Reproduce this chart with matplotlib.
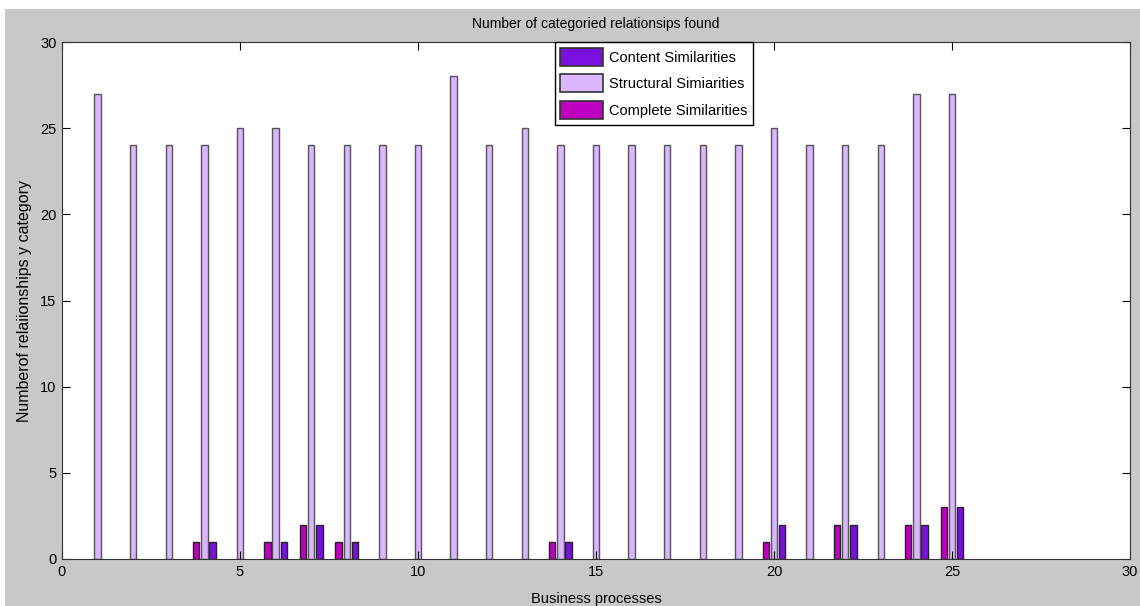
import matplotlib.pyplot as plt
import numpy as np
from matplotlib.patches import Rectangle

processes = np.arange(1, 26)
structural = [27, 24, 24, 24, 25, 25, 24, 24, 24, 24, 28, 24, 25, 24, 24,
              24, 24, 24, 24, 25, 24, 24, 24, 27, 27]
complete = [0, 0, 0, 1, 0, 1, 2, 1, 0, 0, 0, 0, 0, 1, 0,
            0, 0, 0, 0, 1, 0, 2, 0, 2, 3]
content = [0, 0, 0, 1, 0, 1, 2, 1, 0, 0, 0, 0, 0, 1, 0,
           0, 0, 0, 0, 2, 0, 2, 0, 2, 3]

plt.rcParams['font.family'] = ['Liberation Sans Narrow', 'Liberation Sans', 'DejaVu Sans']

fig = plt.figure(figsize=(11.4, 6.06), dpi=100, facecolor='white')
fig.patches.append(Rectangle((5 / 1140, 0), 1, 1 - 9 / 606, transform=fig.transFigure,
                             facecolor='#c8c8c8', edgecolor='none', zorder=-10))
ax = fig.add_axes([62 / 1140, 1 - 559 / 606, (1130 - 62) / 1140, (559 - 42) / 606])

w = 0.18
off = 0.23
ec = '#222222'


def draw(xs, vals, **kw):
    vals = np.asarray(vals)
    lw = np.where(vals > 0, 1.0, 0.0)
    return ax.bar(xs, vals, w, linewidth=lw, **kw)


draw(processes + off, content, color='#7a10e0', edgecolor=ec, label='Content Similarities')
draw(processes, structural, color='#dab6ff', edgecolor='#555555', label='Structural Simiarities')
draw(processes - off, complete, color='#c000c0', edgecolor=ec, label='Complete Similarities')

ax.set_xlim(0, 30)
ax.set_ylim(0, 30)
ax.set_xticks(range(0, 31, 5))
ax.set_yticks(range(0, 31, 5))
ax.tick_params(direction='in', top=True, right=True, labelsize=10.5, length=6, pad=4)
for s in ax.spines.values():
    s.set_color('#333333')

ax.set_title('Number of categoried relationsips found', fontsize=10, pad=10)
ax.set_xlabel('Business processes', fontsize=10.5, labelpad=10)
ax.set_ylabel('Numberof relaiionships y category', fontsize=11.5, labelpad=6)

leg = ax.legend(loc='upper center', bbox_to_anchor=(0.554, 1.0), fontsize=10.5,
                frameon=True, fancybox=False, edgecolor='black', framealpha=1,
                handlelength=2.9, handleheight=1.5, borderpad=0.4, labelspacing=0.6,
                handletextpad=0.4, borderaxespad=0)
leg.get_frame().set_linewidth(1)
for h in leg.legend_handles:
    h.set_linewidth(1.2)
    h.set_edgecolor('#333333')

fig.savefig('out.png', dpi=100, facecolor=fig.get_facecolor())
